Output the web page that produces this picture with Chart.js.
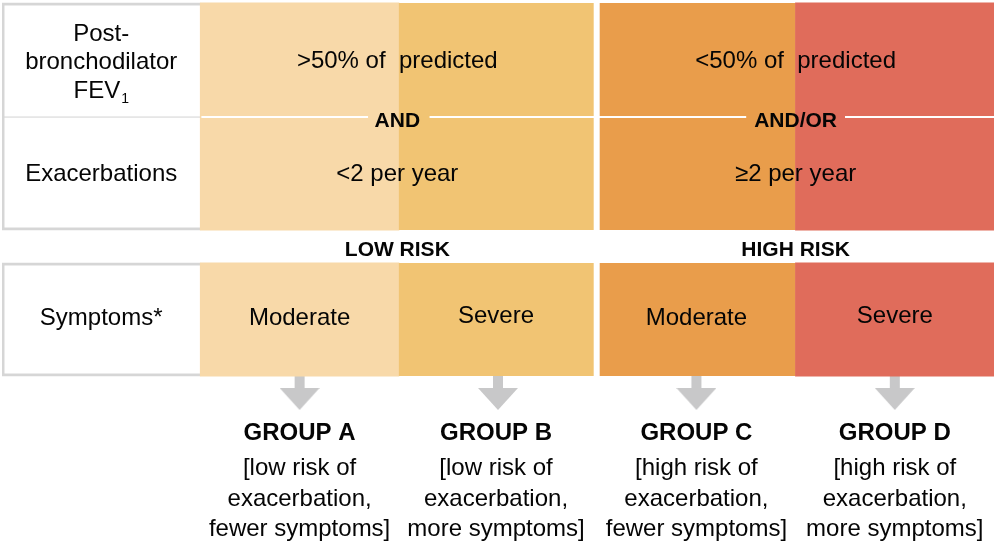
<!DOCTYPE html>
<html>
<head>
<meta charset="utf-8">
<script src="https://cdn.jsdelivr.net/npm/chart.js@4.4.0/dist/chart.umd.min.js"></script>
<style>
  html, body { margin: 0; padding: 0; background: #fff; }
  #wrap { width: 994px; height: 545px; position: relative; }
</style>
</head>
<body>
<div id="wrap"><canvas id="gold"></canvas></div>
<script>
// grid columns: label column + the four groups
const columns = ['label', 'A', 'B', 'C', 'D'];
const cellColors = ['#ffffff', '#f8d9a9', '#f1c473', '#e99d4b', '#e06c5b'];

// row bands on the (reversed) layout axis: [top, bottom]
const fevBand = [3, 117];
const exacBand = [117, 230];
const symptomBand = [263, 376];
const arrowLevel = 392.5;

// texts
const fevLabel = ['Post-', 'bronchodilator', 'FEV'];
const fevCriteria = ['>50% of  predicted', '<50% of  predicted'];
const exacCriteria = ['<2 per year', '\u22652 per year'];
const joiners = ['AND', 'AND/OR'];
const riskLabels = ['LOW RISK', 'HIGH RISK'];
const symptomLevels = ['Moderate', 'Severe', 'Moderate', 'Severe'];
const groupNames = ['GROUP A', 'GROUP B', 'GROUP C', 'GROUP D'];
const groupNotes = [
  ['[low risk of', 'exacerbation,', 'fewer symptoms]'],
  ['[low risk of', 'exacerbation,', 'more symptoms]'],
  ['[high risk of', 'exacerbation,', 'fewer symptoms]'],
  ['[high risk of', 'exacerbation,', 'more symptoms]']
];

const GRAY = '#d6d6d6';
const FONT = '"Liberation Sans", Arial, sans-serif';

// arrow drawn once and used as the point style
function makeArrow() {
  const c = document.createElement('canvas');
  c.width = 40; c.height = 35;
  const g = c.getContext('2d');
  g.fillStyle = '#c8c8c9';
  g.fillRect(15, 0, 10, 14);
  g.beginPath();
  g.moveTo(0, 13); g.lineTo(40, 13); g.lineTo(20, 35);
  g.closePath();
  g.fill();
  return c;
}

function band(b) {
  return columns.map(() => b);
}

// label cell gets a gray frame, B/C get the white gap between them
function cellBorder(side) {
  return (ctx) => {
    const i = ctx.dataIndex;
    if (i === 0) {
      return { top: side === 'top' || side === 'all' ? 3 : 1,
               bottom: side === 'bottom' || side === 'all' ? 3 : 1,
               left: 3, right: 0 };
    }
    if (i === 2) return { top: 0, bottom: 0, left: 0, right: 4 };
    if (i === 3) return { top: 0, bottom: 0, left: 3, right: 0 };
    return 0;
  };
}
const cellBorderColor = (ctx) => ctx.dataIndex === 0 ? GRAY : '#ffffff';

function cellRow(label, b, side) {
  return {
    label: label,
    data: band(b),
    grouped: false,
    categoryPercentage: 1,
    barPercentage: 1,
    backgroundColor: cellColors,
    borderColor: cellBorderColor,
    borderWidth: cellBorder(side),
    borderSkipped: false,
    inflateAmount: 0.5
  };
}

const textPlugin = {
  id: 'cellText',
  afterDatasetsDraw(chart) {
    const { ctx, scales: { x, y } } = chart;
    const put = (str, cx, base, size, bold) => {
      ctx.font = (bold ? 'bold ' : '') + size + 'px ' + FONT;
      ctx.fillText(str, cx, y.getPixelForValue(base));
    };
    ctx.save();
    ctx.textAlign = 'center';
    ctx.textBaseline = 'alphabetic';

    // white divider with gaps for AND / AND/OR
    const ly = y.getPixelForValue(fevBand[1]);
    const left = x.getPixelForValue(0.5) + 1;
    const right = chart.chartArea.right;
    ctx.font = 'bold 21px ' + FONT;
    const gaps = joiners.map((j, k) => {
      const cx = x.getPixelForValue(k === 0 ? 1.5 : 3.5);
      const w = ctx.measureText(j).width / 2 + 8;
      return [cx - w, cx + w];
    });
    ctx.strokeStyle = '#ffffff';
    ctx.lineWidth = 2;
    ctx.beginPath();
    ctx.moveTo(left, ly); ctx.lineTo(gaps[0][0], ly);
    ctx.moveTo(gaps[0][1], ly); ctx.lineTo(gaps[1][0], ly);
    ctx.moveTo(gaps[1][1], ly); ctx.lineTo(right, ly);
    ctx.stroke();

    ctx.fillStyle = '#050505';
    const c0 = x.getPixelForValue(0);
    put(fevLabel[0], c0, 41, 24);
    put(fevLabel[1], c0, 69, 24);
    // FEV with subscript 1
    ctx.font = '24px ' + FONT;
    const wF = ctx.measureText(fevLabel[2]).width;
    ctx.font = '14px ' + FONT;
    const wS = ctx.measureText('1').width;
    const sx = c0 - (wF + wS + 1) / 2;
    ctx.textAlign = 'left';
    put(fevLabel[2], sx, 98, 24);
    put('1', sx + wF + 1, 103, 14);
    ctx.textAlign = 'center';
    put('Exacerbations', c0, 181, 24);
    put('Symptoms*', c0, 325, 24);

    [1.5, 3.5].forEach((v, k) => {
      const cx = x.getPixelForValue(v) - (k === 0 ? 1.5 : 0);
      put(fevCriteria[k], cx, 68, 24);
      put(exacCriteria[k], cx, 181, 24);
      put(joiners[k], cx, 126.5, 21, true);
      put(riskLabels[k], cx, 256, 21, true);
    });

    for (let i = 1; i < columns.length; i++) {
      const cx = x.getPixelForValue(i) - (i === 2 ? 2 : 0);
      put(symptomLevels[i - 1], cx, symptomLevels[i - 1] === 'Severe' ? 323 : 325, 24);
      put(groupNames[i - 1], cx, 440, 24, true);
      groupNotes[i - 1].forEach((line, k) => put(line, cx, 475 + k * 30.5, 24));
    }
    ctx.restore();
  }
};

new Chart(document.getElementById('gold'), {
  type: 'bar',
  data: {
    labels: columns,
    datasets: [
      cellRow('FEV1', fevBand, 'top'),
      cellRow('Exacerbations', exacBand, 'bottom'),
      cellRow('Symptoms', symptomBand, 'all'),
      {
        type: 'line', label: 'arrows',
        data: columns.map((c, i) => i === 0 ? null : arrowLevel),
        showLine: false, pointStyle: makeArrow(), pointRadius: 20,
        backgroundColor: '#c8c8c9', borderColor: '#c8c8c9'
      }
    ]
  },
  options: {
    responsive: true,
    maintainAspectRatio: false,
    animation: false,
    events: [],
    layout: { autoPadding: false, padding: { left: 2, right: 0, top: 0, bottom: 0 } },
    plugins: { legend: { display: false }, tooltip: { enabled: false }, colors: { enabled: false } },
    scales: {
      x: { type: 'category', display: false },
      y: { type: 'linear', min: 0, max: 545, reverse: true, display: false }
    }
  },
  plugins: [textPlugin]
});
</script>
</body>
</html>
